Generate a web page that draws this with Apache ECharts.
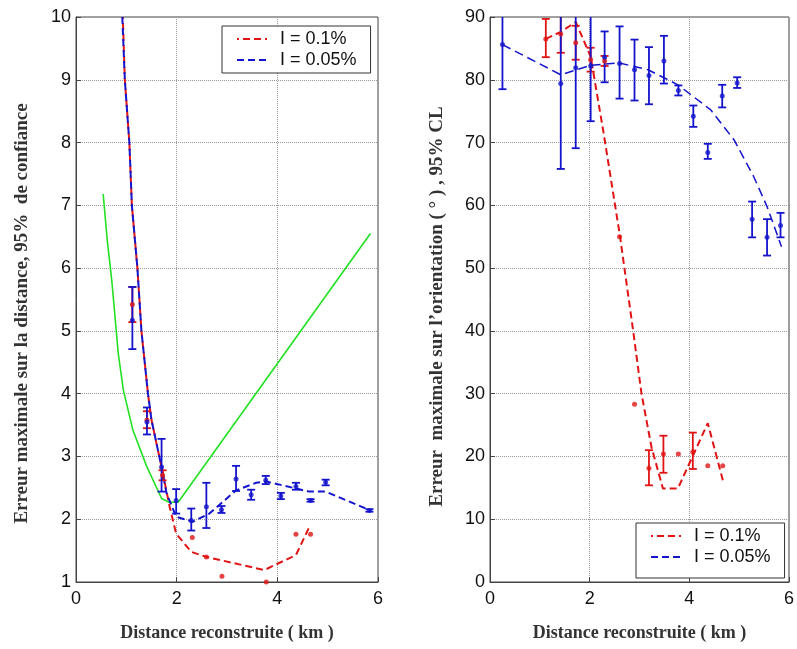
<!DOCTYPE html>
<html>
<head>
<meta charset="utf-8">
<script src="https://cdn.jsdelivr.net/npm/echarts@6/dist/echarts.min.js"></script>
<style>html,body{margin:0;padding:0;background:#fff}#c{width:797px;height:649px}</style>
</head>
<body>
<div id="c"></div>
<script>
// ---------- data ----------
const xTicks = [0, 2, 4, 6];
const distTicks = [1, 2, 3, 4, 5, 6, 7, 8, 9, 10];
const orientTicks = [0, 10, 20, 30, 40, 50, 60, 70, 80, 90];
const legendNames = ['I = 0.1%', 'I = 0.05%'];

// Left panel: distance error
const distGreen = [[0.54,7.18],[0.62,6.45],[0.71,5.81],[0.84,4.64],[0.94,4.06],[1.13,3.42],[1.4,2.85],[1.7,2.33],[1.85,2.27],[2.03,2.27],[5.85,6.55]];
const distRedLine = [[0.93,10],[0.97,9],[1.06,8],[1.11,7],[1.22,6],[1.30,5.0],[1.43,4],[1.5,3.58],[1.7,2.83],[1.86,2.2],[1.99,1.77],[2.29,1.48],[2.59,1.40],[3.74,1.19],[4.37,1.43],[4.65,1.90]];
const distBlueLine = [[0.92,10],[0.97,9],[1.06,8],[1.11,7],[1.22,6],[1.30,5.0],[1.43,4],[1.5,3.58],[1.7,2.83],[1.8,2.41],[1.99,2.04],[2.32,1.96],[2.65,2.09],[3.18,2.46],[3.58,2.58],[3.78,2.6],[4.37,2.49],[4.63,2.44],[4.96,2.44],[5.85,2.14]];
const distRedPts = [[1.12,5.42],[1.41,3.58],[1.72,2.70],[2.31,1.71],[2.59,1.40],[2.90,1.09],[3.78,1.0],[4.37,1.76],[4.66,1.76]];
const distRedErr = [[1.12,5.14,5.70],[1.41,3.45,3.72],[1.72,2.62,2.78]];
const distBluePts = [[1.12,5.17],[1.41,3.55],[1.70,2.83],[1.99,2.30],[2.29,1.98],[2.59,2.20],[2.89,2.15],[3.18,2.64],[3.48,2.39],[3.77,2.62],[4.07,2.37],[4.37,2.52],[4.66,2.30],[4.96,2.59],[5.83,2.14]];
const distBlueErr = [[1.12,4.71,5.70],[1.41,3.35,3.78],[1.70,2.44,3.28],[1.99,2.09,2.48],[2.29,1.82,2.17],[2.59,1.86,2.58],[2.89,2.10,2.21],[3.18,2.45,2.85],[3.48,2.31,2.47],[3.77,2.56,2.69],[4.07,2.32,2.42],[4.37,2.47,2.58],[4.66,2.28,2.32],[4.96,2.54,2.63],[5.83,2.12,2.16]];

// Right panel: orientation error
const oriRedLine = [[1.12,86.5],[1.41,87.6],[1.72,89.2],[2.02,83.7],[2.28,71.5],[2.61,55.0],[2.88,39.6],[3.04,30.0],[3.24,21.5],[3.47,14.9],[3.77,14.9],[4.03,19.4],[4.37,25.3],[4.68,16.0]];
const oriBlueLine = [[0.25,85.6],[1.42,80.8],[2.02,82.3],[2.58,82.7],[3.17,81.6],[3.77,79.2],[4.43,75.2],[4.90,70.4],[5.29,64.6],[5.56,59.8],[5.85,53.4]];
const oriRedPts = [[1.12,86.5],[1.42,87.3],[1.72,85.9],[2.02,83.2],[2.30,83.0],[2.60,55.0],[2.90,28.3],[3.19,18.1],[3.48,20.4],[3.78,20.4],[4.07,20.7],[4.37,18.5],[4.67,18.5]];
const oriRedErr = [[1.12,83.6,89.7],[1.42,84.3,90.3],[1.72,83.2,88.6],[2.02,81.3,85.1],[2.30,82.2,83.8],[3.19,15.4,21.0],[3.48,17.4,23.3],[4.07,18.0,23.8]];
const oriBluePts = [[0.25,85.6],[1.42,79.4],[1.72,81.9],[2.02,82.2],[2.30,83.6],[2.60,82.6],[2.90,81.6],[3.19,80.7],[3.49,83.0],[3.78,78.3],[4.08,74.2],[4.37,68.4],[4.66,77.4],[4.96,79.5],[5.26,57.8],[5.56,54.9],[5.83,56.8]];
const oriBlueErr = [[0.25,78.5,92.7],[1.42,65.8,93.0],[1.72,69.1,94.7],[2.02,73.4,91.0],[2.30,79.6,87.7],[2.60,77.0,88.5],[2.90,76.7,86.4],[3.19,76.1,85.2],[3.49,79.4,87.0],[3.78,77.5,79.1],[4.08,72.5,75.9],[4.37,67.4,69.8],[4.66,75.6,79.2],[4.96,78.7,80.4],[5.26,54.9,60.6],[5.56,52.0,57.8],[5.83,54.9,58.8]];

// ---------- styling ----------
const RED = '#e01414';
const BLUE = '#1414cc';
const GREEN = '#22e022';

function errRender(color) {
  return function (params, api) {
    const x = api.value(0), lo = api.value(1), hi = api.value(2);
    const a = api.coord([x, lo]), b = api.coord([x, hi]);
    const w = 4;
    const st = { stroke: color, lineWidth: 1.8 };
    return {
      type: 'group',
      children: [
        { type: 'line', shape: { x1: a[0], y1: a[1], x2: b[0], y2: b[1] }, style: st },
        { type: 'line', shape: { x1: a[0] - w, y1: a[1], x2: a[0] + w, y2: a[1] }, style: st },
        { type: 'line', shape: { x1: b[0] - w, y1: b[1], x2: b[0] + w, y2: b[1] }, style: st }
      ]
    };
  };
}

function xAxisCfg(gi) {
  return {
    type: 'value', gridIndex: gi, min: 0, max: 6, interval: 2,
    name: 'Distance reconstruite ( km )', nameLocation: 'middle', nameGap: 42,
    nameTextStyle: { fontFamily: 'Liberation Serif', fontWeight: 'bold', fontSize: 18, color: '#333' },
    axisLine: { show: true, lineStyle: { color: '#444', width: 1 } },
    axisTick: { show: true, inside: true, length: 5, lineStyle: { color: '#444' } },
    axisLabel: { fontFamily: 'Liberation Sans', fontSize: 18, color: '#111', margin: 8 },
    splitLine: { show: true, lineStyle: { type: 'dotted', color: '#999', width: 1 } }
  };
}
function yAxisCfg(gi, min, max, interval, name, gap, shift) {
  return {
    type: 'value', gridIndex: gi, min: min, max: max, interval: interval,
    name: name, nameLocation: 'middle', nameGap: gap,
    nameTextStyle: { fontFamily: 'Liberation Serif', fontWeight: 'bold', fontSize: 19, color: '#333', padding: [0, shift, 0, 0] },
    axisLine: { show: true, lineStyle: { color: '#444', width: 1 } },
    axisTick: { show: true, inside: true, length: 5, lineStyle: { color: '#444' } },
    axisLabel: { fontFamily: 'Liberation Sans', fontSize: 18, color: '#111', margin: 5 },
    splitLine: { show: true, lineStyle: { type: 'dotted', color: '#999', width: 1 } }
  };
}
function lineSeries(name, data, color, xi, width, dash, offset) {
  return {
    name: name, type: 'line', xAxisIndex: xi, yAxisIndex: xi, data: data,
    symbol: 'none', smooth: false, animation: false,
    lineStyle: { color: color, width: width, type: dash, dashOffset: offset || 0 },
    itemStyle: { color: color }, z: 3
  };
}
function dotSeries(data, color, xi) {
  return {
    type: 'scatter', xAxisIndex: xi, yAxisIndex: xi, data: data,
    symbol: 'circle', symbolSize: 5, itemStyle: { color: color }, z: 5, animation: false
  };
}
function errSeries(data, color, xi) {
  return {
    type: 'custom', xAxisIndex: xi, yAxisIndex: xi, data: data, clip: true,
    renderItem: errRender(color), z: 4, animation: false
  };
}
function legendCfg(left, top, padBottom) {
  return {
    data: legendNames, orient: 'vertical', left: left, top: top,
    backgroundColor: '#fff', borderColor: '#333', borderWidth: 1,
    padding: [4, 14, padBottom, 14], itemGap: 3, itemWidth: 30, itemHeight: 20,
    itemStyle: { opacity: 0 },
    lineStyle: { width: 2 },
    textStyle: { fontFamily: 'Liberation Sans', fontSize: 18, color: '#111', padding: [0, 0, 0, 8] },
    selectedMode: false
  };
}

const chart = echarts.init(document.getElementById('c'), null, { renderer: 'canvas' });
chart.setOption({
  backgroundColor: '#fff',
  animation: false,
  grid: [
    { left: 76, right: 419, top: 17, bottom: 67, show: true, borderColor: '#444', borderWidth: 1 },
    { left: 490, right: 5, top: 17, bottom: 67, show: true, borderColor: '#444', borderWidth: 1 }
  ],
  xAxis: [xAxisCfg(0), xAxisCfg(1)],
  yAxis: [
    yAxisCfg(0, 1, 10, 1, 'Erreur maximale sur la distance, 95%  de confiance', 44, 28),
    yAxisCfg(1, 0, 90, 10, 'Erreur  maximale sur l\u2019orientation ( \u00b0 ) , 95% CL', 43, 14)
  ],
  legend: [legendCfg(222, 26, 4), legendCfg(636, 523, 12)],
  series: [
    { type: 'line', xAxisIndex: 0, yAxisIndex: 0, data: distGreen, symbol: 'none', lineStyle: { color: GREEN, width: 1.6 }, z: 2 },
    lineSeries(legendNames[0], distRedLine, RED, 0, 2, [7, 4], 5),
    lineSeries(legendNames[1], distBlueLine, BLUE, 0, 2, [7, 4], 0),
    errSeries(distRedErr, RED, 0),
    errSeries(distBlueErr, BLUE, 0),
    dotSeries(distRedPts, RED, 0),
    dotSeries(distBluePts, BLUE, 0),
    lineSeries(legendNames[0], oriRedLine, RED, 1, 2, [7, 4], 0),
    lineSeries(legendNames[1], oriBlueLine, BLUE, 1, 1.5, [9, 5], 0),
    errSeries(oriRedErr, RED, 1),
    errSeries(oriBlueErr, BLUE, 1),
    dotSeries(oriRedPts, RED, 1),
    dotSeries(oriBluePts, BLUE, 1)
  ]
});
</script>
</body>
</html>
